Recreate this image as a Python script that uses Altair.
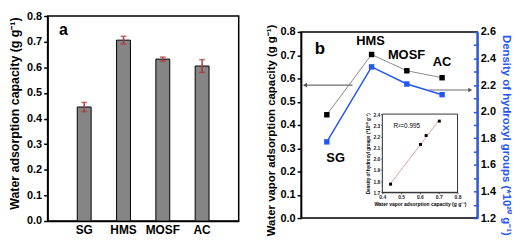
import altair as alt
import pandas as pd

# ---------------- data ----------------
samples = ["SG", "HMS", "MOSF", "AC"]

# panel a
water_capacity = [0.445, 0.706, 0.632, 0.605]
water_error = [0.018, 0.015, 0.008, 0.025]
letter_a_pos = [0.083, 0.745]   # (fraction of width, capacity units)

# panel b
sample_x = [0.73, 2.0, 3.0, 4.0]
vapor_capacity = [0.444, 0.703, 0.633, 0.603]
hydroxyl_density = [1.773, 2.337, 2.208, 2.128]
label_x = [0.98, 1.97, 2.99, 4.0]
label_y = [0.26, 0.762, 0.702, 0.672]
letter_b_pos = [0.53, 0.728]

left_arrow_x = [0.11, 1.46]
left_arrow_y = [0.571]
right_arrow_x = [3.62, 4.80]
right_arrow_y = [2.163]

# inset
r2_text = ["R²=0.995"]
r2_x = [0.46]
r2_y = [2.289]

left_ticks = [0.0, 0.1, 0.2, 0.3, 0.4, 0.5, 0.6, 0.7, 0.8]
right_ticks = [1.2, 1.3, 1.4, 1.5, 1.6, 1.7, 1.8, 1.9, 2.0, 2.1, 2.2, 2.3, 2.4, 2.5, 2.6]
inset_x_ticks = [0.4, 0.5, 0.6, 0.7, 0.8]
inset_y_ticks = [1.7, 1.8, 1.9, 2.0, 2.1, 2.2, 2.3, 2.4]

FONT = "Liberation Sans"
BLUE = "#2457f5"
RED = "#b03535"
GRAY = "#8a8a8a"

# ---------------- panel a ----------------
W_A, H_A = 193, 207
df_a = pd.DataFrame({"sample": samples, "value": water_capacity, "err": water_error})

x_a = alt.X(
    "sample:N", sort=samples, title=None,
    scale=alt.Scale(paddingInner=0.647, paddingOuter=0.755),
    axis=alt.Axis(labelAngle=0, labelFontSize=12, labelFontWeight="bold", labelColor="black",
                  ticks=False, labelPadding=4, domainColor="black", domainWidth=1.5,
                  minExtent=0),
)
TITLE_A = "Water adsorption capacity (g g⁻¹)"
ya_scale = alt.Scale(domain=[0, 0.8], nice=False)
ya_axis = alt.Axis(values=left_ticks, format=".1f", labelFontSize=11, labelFontWeight="bold",
                   labelColor="black", tickColor="black", tickSize=4, tickWidth=1.5,
                   domainColor="black", domainWidth=1.5, grid=False, labelFlush=False,
                   titleFontSize=12.5, titleFontWeight="bold", titleColor="black",
                   titleX=-33, titleY=98, titleBaseline="middle", titleAngle=270, minExtent=0)


def ya(field):
    return alt.Y(field, scale=ya_scale, axis=ya_axis, title=TITLE_A)


base_a = alt.Chart(df_a).transform_calculate(
    lo="datum.value - datum.err", hi="datum.value + datum.err"
)
bars = base_a.mark_bar(fill="#858585", stroke="black", strokeWidth=1).encode(
    x=x_a, y=ya("value:Q"))
err_rule = base_a.mark_rule(color=RED, strokeWidth=1.5).encode(x=x_a, y=ya("lo:Q"), y2="hi:Q")
cap_lo = base_a.mark_tick(color=RED, size=6, thickness=1.5).encode(x=x_a, y=ya("lo:Q"))
cap_hi = base_a.mark_tick(color=RED, size=6, thickness=1.5).encode(x=x_a, y=ya("hi:Q"))

df_la_txt = pd.DataFrame({"x": [letter_a_pos[0]], "y": [letter_a_pos[1]], "t": ["a"]})
letter_a = alt.Chart(df_la_txt).mark_text(fontSize=16, fontWeight="bold", color="black").encode(
    x=alt.X("x:Q", scale=alt.Scale(domain=[0, 1], nice=False), axis=None),
    y=ya("y:Q"), text="t:N")

panel_a = alt.layer(
    alt.layer(bars, err_rule, cap_lo, cap_hi), letter_a
).resolve_scale(x="independent").properties(
    width=W_A, height=H_A,
    view=alt.ViewBackground(stroke="black", strokeWidth=1.5),
)

# ---------------- panel b ----------------
W_B, H_B = 178, 188
df_b = pd.DataFrame({"sample": samples, "x": sample_x, "vapor": vapor_capacity,
                     "density": hydroxyl_density, "lx": label_x, "ly": label_y})
df_la = pd.DataFrame({"x1": [left_arrow_x[0]], "x2": [left_arrow_x[1]], "y": left_arrow_y})
df_ra = pd.DataFrame({"x1": [right_arrow_x[0]], "x2": [right_arrow_x[1]], "y": right_arrow_y})
df_lb_txt = pd.DataFrame({"x": [letter_b_pos[0]], "y": [letter_b_pos[1]], "t": ["b"]})

xb_scale = alt.Scale(domain=[0, 5], nice=False)


def xb(field):
    return alt.X(field, scale=xb_scale, axis=None)


TITLE_BL = "Water vapor adsorption capacity (g g⁻¹)"
TITLE_BR = "Density of hydroxyl groups (*10²⁰ g⁻¹)"
yl_scale = alt.Scale(domain=[0, 0.8], nice=False)
yl_axis = alt.Axis(orient="left", values=left_ticks, format=".1f", labelFontSize=11,
                   labelFontWeight="bold", labelColor="black", tickColor="black", tickSize=4,
                   tickWidth=1.5, domainColor="black", domainWidth=1.5, grid=False,
                   labelFlush=False, titleFontSize=11.5, titleFontWeight="bold",
                   titleColor="black", titleX=-30, titleY=99, titleBaseline="middle",
                   titleAngle=270, minExtent=0)
yr_scale = alt.Scale(domain=[1.2, 2.6], nice=False, zero=False)
yr_axis = alt.Axis(orient="right", values=right_ticks,
                   labelExpr="round(datum.value * 10) % 2 == 0 ? format(datum.value, '.1f') : ''",
                   labelFontSize=11, labelFontWeight="bold", labelColor="black", ticks=False,
                   labelPadding=3, domainColor=BLUE, domainWidth=2, grid=True, gridColor=BLUE,
                   gridWidth=1.5, gridDash=[4, 1000], labelFlush=False, labelOverlap=False,
                   titleFontSize=11.5, titleFontWeight="bold", titleColor=BLUE,
                   titleX=28, titleY=104, titleBaseline="middle", titleAngle=90, minExtent=0)


def yl(field):
    return alt.Y(field, scale=yl_scale, axis=yl_axis, title=TITLE_BL)


def yr(field):
    return alt.Y(field, scale=yr_scale, axis=yr_axis, title=TITLE_BR)


black_line = alt.Chart(df_b).mark_line(color=GRAY, strokeWidth=1).encode(x=xb("x:Q"), y=yl("vapor:Q"))
black_pts = alt.Chart(df_b).mark_point(shape="square", filled=True, size=30, color="black",
                                       opacity=1).encode(x=xb("x:Q"), y=yl("vapor:Q"))
name_labels = alt.Chart(df_b).mark_text(fontSize=13, fontWeight="bold", color="black").encode(
    x=xb("lx:Q"), y=yl("ly:Q"), text="sample:N")
letter_b = alt.Chart(df_lb_txt).mark_text(fontSize=17, fontWeight="bold", color="black").encode(
    x=xb("x:Q"), y=yl("y:Q"), text="t:N")
la_rule = alt.Chart(df_la).mark_rule(color="#6e6e6e", strokeWidth=1.2).encode(
    x=xb("x1:Q"), x2="x2:Q", y=yl("y:Q"))
la_head = alt.Chart(df_la).mark_point(shape="triangle-left", filled=True, size=22,
                                      color="#555555", opacity=1).encode(x=xb("x1:Q"), y=yl("y:Q"))

blue_line = alt.Chart(df_b).mark_line(color=BLUE, strokeWidth=1.5).encode(x=xb("x:Q"), y=yr("density:Q"))
blue_pts = alt.Chart(df_b).mark_point(shape="square", filled=True, size=30, color=BLUE,
                                      opacity=1).encode(x=xb("x:Q"), y=yr("density:Q"))
ra_rule = alt.Chart(df_ra).mark_rule(color="#6e6e6e", strokeWidth=1.2).encode(
    x=xb("x1:Q"), x2="x2:Q", y=yr("y:Q"))
ra_head = alt.Chart(df_ra).mark_point(shape="triangle-right", filled=True, size=22,
                                      color="#555555", opacity=1).encode(x=xb("x2:Q"), y=yr("y:Q"))

left_layer = alt.layer(black_line, la_rule, la_head, black_pts, name_labels, letter_b)
right_layer = alt.layer(blue_line, ra_rule, ra_head, blue_pts)
main_b = alt.layer(left_layer, right_layer).resolve_scale(y="independent")

# ---------------- inset (drawn inside panel b) ----------------
IN_L, IN_R, IN_T, IN_B = 82, 158, 83, 162
df_in = pd.DataFrame({"capacity": vapor_capacity, "density": hydroxyl_density})
df_r2 = pd.DataFrame({"x": r2_x, "y": r2_y, "t": r2_text})
df_frame = pd.DataFrame({"x1": [inset_x_ticks[0]], "x2": [inset_x_ticks[-1]],
                         "y1": [inset_y_ticks[0]], "y2": [inset_y_ticks[-1]]})

xi_scale = alt.Scale(domain=[0.4, 0.8], nice=False, zero=False, range=[IN_L, IN_R])
yi_scale = alt.Scale(domain=[1.7, 2.4], nice=False, zero=False, range=[IN_B, IN_T])
xi_axis = alt.Axis(orient="bottom", offset=IN_B - H_B, values=inset_x_ticks, format=".1f",
                   labelFontSize=5, labelFontWeight="bold", labelColor="#222", tickSize=1.5,
                   tickWidth=0.6, tickColor="black", domainColor="black", domainWidth=0.8,
                   labelPadding=1, grid=False, labelFlush=False, titleFontSize=5,
                   titleFontWeight="bold", titleColor="black", titlePadding=2, minExtent=0)
yi_axis = alt.Axis(orient="left", offset=-IN_L, values=inset_y_ticks, format=".1f",
                   labelFontSize=5, labelFontWeight="bold", labelColor="#222", tickSize=1.5,
                   tickWidth=0.6, tickColor="black", domainColor="black", domainWidth=0.8,
                   labelPadding=1, grid=False, labelFlush=False, titleFontSize=4.6,
                   titleFontWeight="bold", titleColor="black", titlePadding=2, minExtent=0)
TITLE_IX = "Water vapor adsorption capacity (g g⁻¹)"
TITLE_IY = "Density of hydroxyl groups (*10²⁰ g⁻¹)"


def xi(field):
    return alt.X(field, scale=xi_scale, axis=xi_axis, title=TITLE_IX)


def yi(field):
    return alt.Y(field, scale=yi_scale, axis=yi_axis, title=TITLE_IY)


frame = alt.Chart(df_frame).mark_rect(fill="white", stroke="black", strokeWidth=0.8).encode(
    x=xi("x1:Q"), x2="x2:Q", y=yi("y1:Q"), y2="y2:Q")
fit = alt.Chart(df_in).transform_regression(
    "capacity", "density", extent=[min(vapor_capacity), max(vapor_capacity)]
).mark_line(color="#d98a84", strokeWidth=0.8).encode(x=xi("capacity:Q"), y=yi("density:Q"))
in_pts = alt.Chart(df_in).mark_point(shape="square", filled=True, size=9, color="black",
                                     opacity=1).encode(x=xi("capacity:Q"), y=yi("density:Q"))
r2 = alt.Chart(df_r2).mark_text(fontSize=6.5, align="left", color="black").encode(
    x=xi("x:Q"), y=yi("y:Q"), text="t:N")

inset = alt.layer(frame, fit, in_pts, r2)

panel_b = alt.layer(main_b, inset).resolve_scale(x="independent", y="independent").properties(
    width=W_B, height=H_B,
    view=alt.ViewBackground(stroke="black", strokeWidth=1.5),
)


# ---------------- layout ----------------
def spacer():
    return alt.Chart(pd.DataFrame({"v": [0]})).mark_point(opacity=0).encode(
        x=alt.X("v:Q", axis=None), y=alt.Y("v:Q", axis=None)
    ).properties(width=1, height=1, view=alt.ViewBackground(stroke="transparent"))


col_b = alt.vconcat(spacer(), panel_b, spacing=15, bounds="flush")

chart = alt.hconcat(panel_a, col_b, spacing=63, bounds="flush").properties(
    padding=0
).configure(font=FONT).configure_axis(labelFont=FONT, titleFont=FONT).configure_text(
    font=FONT).configure_title(font=FONT)

chart.save("out.html", embed_options={"renderer": "svg", "actions": False})
